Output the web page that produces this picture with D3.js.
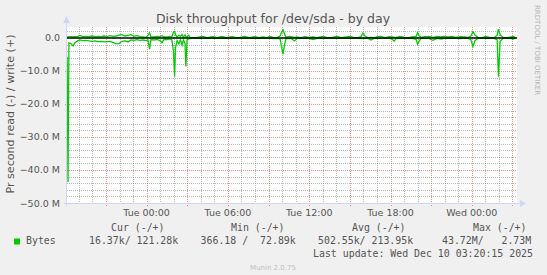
<!DOCTYPE html>
<html><head><meta charset="utf-8">
<script src="https://cdn.jsdelivr.net/npm/d3@7"></script>
<style>
html,body{margin:0;padding:0;background:#F0F0F0;}
svg{display:block;}
text{white-space:pre;}
</style></head>
<body>
<script>
// ---- data (minutes after Mon Dec 8 2025 18:00, values in MB/s) ----
const title = "Disk throughput for /dev/sda - by day";
const yLabel = "Pr second read (-) / write (+)";
const minutes = [8,12,16,25,34,43,56,65,78,92,105,118,132,145,158,171,185,198,211,225,238,251,264,278,291,304,317,331,344,357,366,373,379,393,406,419,428,437,450,464,472,479,484,488,495,503,510,517,523,530,534,539,546,552,565,583,610,627,654,672,694,712,738,756,774,796,813,840,858,875,893,906,920,937,951,957,964,971,977,991,1004,1015,1026,1044,1061,1079,1097,1115,1141,1159,1181,1203,1221,1243,1261,1278,1296,1309,1318,1327,1340,1354,1367,1385,1398,1416,1433,1447,1456,1464,1482,1500,1518,1535,1553,1560,1566,1575,1593,1610,1628,1646,1664,1677,1695,1712,1730,1748,1765,1783,1796,1805,1814,1827,1845,1863,1881,1898,1912,1918,1925,1938,1956,1974,1982,1991];
const readMB = [5.7,43.6,1.5,1.7,2.4,1.4,0.8,0.6,0.8,0.7,0.9,1.0,0.9,1.1,1.0,1.2,1.1,1.0,1.3,1.8,1.7,1.0,0.9,1.2,0.6,0.7,0.5,0.7,0.6,0.8,0.6,3.4,0.5,0.6,0.4,0.8,1.5,0.4,0.5,0.3,0.6,4.0,11.7,3.0,0.8,1.8,0.5,2.2,0.6,1.6,8.6,0.6,0.3,0.2,0.1,0.1,0.1,0.1,0.1,0.1,0.1,0.1,0.1,0.1,0.1,0.1,0.1,0.1,0.1,0.1,0.1,0.1,0.2,0.1,0.3,2.5,4.9,2.0,0.2,0.1,0.3,0.9,0.1,0.1,0.1,0.1,0.5,0.1,0.1,0.1,0.1,0.1,0.1,0.1,0.1,0.1,0.1,0.1,0.2,0.1,0.1,0.6,0.1,0.1,0.1,0.1,0.1,0.3,1.0,0.2,0.1,0.1,0.1,0.1,0.4,1.9,1.0,0.1,0.1,0.1,0.7,0.1,0.3,0.1,0.1,0.1,0.1,0.2,0.1,0.1,0.5,2.6,0.8,0.1,0.1,0.1,0.1,0.1,0.5,11.7,1.0,0.1,0.1,0.1,0.4,0.02];
const writeMB = [0.3,0.3,0.4,0.4,0.3,0.4,0.5,0.8,0.4,0.5,0.4,0.6,0.4,0.5,0.4,0.6,0.4,0.7,0.5,0.6,0.9,1.0,0.6,0.8,1.0,0.5,0.7,0.4,0.3,0.2,0.8,1.5,0.4,0.3,0.5,0.4,0.7,0.3,0.3,0.4,0.4,1.8,2.0,0.9,0.3,0.8,0.4,1.0,0.3,0.9,0.4,0.3,0.8,0.2,0.1,0.2,0.5,0.1,0.4,0.1,0.5,0.1,0.4,0.1,0.2,0.5,0.1,0.4,0.1,0.3,0.1,0.5,0.2,0.1,0.6,1.6,2.4,1.2,0.2,0.5,0.3,0.2,0.3,0.1,0.4,0.2,0.3,0.1,0.5,0.1,0.2,0.5,0.1,0.3,0.5,0.1,0.1,0.4,1.5,0.6,0.1,0.2,0.1,0.4,0.5,0.1,0.4,0.3,0.2,0.2,0.5,0.2,0.1,0.3,0.5,1.6,0.8,0.2,0.4,0.5,0.2,0.5,0.3,0.5,0.3,0.5,0.2,0.4,0.3,0.2,0.6,1.9,0.9,0.2,0.1,0.5,0.1,0.1,0.8,2.7,1.0,0.2,0.1,0.3,0.5,0.12];
const yTicks = [0,-10,-20,-30,-40,-50];
const legendHeaders = ["Cur (-/+)","Min (-/+)","Avg (-/+)","Max (-/+)"];
const legendSeries = "Bytes";
const legendValues = ["16.37k/ 121.28k","366.18 /  72.89k","502.55k/ 213.95k","43.72M/   2.73M"];
const lastUpdate = "Last update: Wed Dec 10 03:20:15 2025";
const watermark = "RRDTOOL / TOBI OETIKER";
const footer = "Munin 2.0.75";

// ---- drawing ----
const W = 547, H = 275;
const base = new Date(2025, 11, 8, 18, 0);
const t = m => new Date(base.getTime() + m * 60000);
const endT = t(2000);
const L = 67, R = 517, T = 27, B = 203;
const x = d3.scaleTime().domain([base, endT]).range([65.3, R]);
const y = d3.scaleLinear().domain([-50, 3.33]).range([B, T]);
const green = "#00CC00", fontCol = "#555555";

const svg = d3.select("body").append("svg").attr("width", W).attr("height", H);
svg.append("rect").attr("width", W).attr("height", H).attr("fill", "#F0F0F0");
svg.append("rect").attr("x", L).attr("y", T).attr("width", R - L).attr("height", B - T).attr("fill", "#FFFFFF");

const defs = svg.append("defs");
defs.append("clipPath").attr("id", "clip").append("rect").attr("x", L).attr("y", T).attr("width", R - L).attr("height", B - T);

// grid
const g = svg.append("g");
const hourTicks = d3.timeHour.every(1).range(base, endT).filter(d => x(d) > L + 0.5);
hourTicks.forEach(d => {
  const major = d.getHours() % 3 === 0;
  g.append("line").attr("x1", Math.round(x(d)) + 0.5).attr("x2", Math.round(x(d)) + 0.5)
    .attr("y1", T).attr("y2", major ? B + 3 : B)
    .attr("stroke", major ? "rgba(225,70,70,0.6)" : "rgba(130,130,130,0.55)")
    .attr("stroke-dasharray", "1,1");
});
d3.range(-50, 3.33, 2).forEach(v => {
  const major = v % 10 === 0;
  if (v === 0) return;
  g.append("line").attr("x1", major ? L - 2 : L).attr("x2", R)
    .attr("y1", Math.round(y(v)) + 0.5).attr("y2", Math.round(y(v)) + 0.5)
    .attr("stroke", major ? "rgba(225,70,70,0.6)" : "rgba(130,130,130,0.55)")
    .attr("stroke-dasharray", "1,1");
});

// series
const readData = minutes.map((m, i) => [t(m), -readMB[i]]);
const writeData = minutes.map((m, i) => [t(m), writeMB[i]]);
const line = d3.line().x(d => x(d[0])).y(d => y(d[1]));
const plot = svg.append("g").attr("clip-path", "url(#clip)");
plot.append("path").attr("d", line(readData)).attr("fill", "none").attr("stroke", green).attr("stroke-width", 1.3);
plot.append("path").attr("d", line(writeData)).attr("fill", "none").attr("stroke", green).attr("stroke-width", 1.3);
// zero rule
svg.append("line").attr("x1", L).attr("x2", R).attr("y1", y(0)).attr("y2", y(0)).attr("stroke", "#000").attr("stroke-width", 1.3);

// axes
const axisCol = "#CFD6F8";
svg.append("line").attr("x1", L - 0.5).attr("x2", L - 0.5).attr("y1", B + 3).attr("y2", T - 6).attr("stroke", axisCol);
svg.append("path").attr("d", `M${L-4},${T-4} L${L-0.5},${T-11} L${L+3},${T-4} Z`).attr("fill", axisCol);
svg.append("line").attr("x1", L - 3).attr("x2", R + 5).attr("y1", B + 0.5).attr("y2", B + 0.5).attr("stroke", axisCol);
svg.append("path").attr("d", `M${R+3},${B-3} L${R+9},${B+0.5} L${R+3},${B+4} Z`).attr("fill", axisCol);

// tick labels
const fSans = "DejaVu Sans";
const fMono = "DejaVu Sans Mono";
svg.append("g").selectAll("text").data(yTicks).join("text")
  .attr("x", 60).attr("y", d => y(d) + 3.5).attr("text-anchor", "end")
  .attr("font-family", fSans).attr("font-size", 9.5).attr("fill", fontCol)
  .text(d => d === 0 ? "0.0" : d3.format(".1f")(d) + " M");
const labelTicks = d3.timeHour.every(6).range(base, endT).filter(d => x(d) > L + 5);
svg.append("g").selectAll("text").data(labelTicks).join("text")
  .attr("x", d => x(d)).attr("y", 216).attr("text-anchor", "middle")
  .attr("font-family", fSans).attr("font-size", 9.5).attr("fill", fontCol)
  .text(d => d3.timeFormat("%a %H:%M")(d));

// titles
svg.append("text").attr("x", 273).attr("y", 23).attr("text-anchor", "middle")
  .attr("font-family", fSans).attr("font-size", 12.5).attr("fill", fontCol).text(title);
svg.append("text").attr("transform", "translate(14,114) rotate(-90)").attr("text-anchor", "middle")
  .attr("font-family", fSans).attr("font-size", 11.1).attr("fill", fontCol).text(yLabel);
svg.append("text").attr("transform", "translate(535,5) rotate(90)").attr("text-anchor", "start")
  .attr("font-family", fSans).attr("font-size", 7).attr("fill", "#b4b4b4").text(watermark);

// legend
const headX = [111, 231, 352, 473];
const valX = [89, 200.6, 318, 442];
svg.append("g").selectAll("text").data(legendHeaders).join("text")
  .attr("x", (d, i) => headX[i]).attr("y", 231).attr("font-family", fMono).attr("font-size", 9.9).attr("fill", fontCol).text(d => d);
svg.append("rect").attr("x", 14).attr("y", 238.5).attr("width", 6).attr("height", 6).attr("fill", green);
svg.append("text").attr("x", 26).attr("y", 244).attr("font-family", fMono).attr("font-size", 9.9).attr("fill", fontCol).text(legendSeries);
svg.append("g").selectAll("text").data(legendValues).join("text")
  .attr("x", (d, i) => valX[i]).attr("y", 244).attr("font-family", fMono).attr("font-size", 9.9).attr("fill", fontCol).text(d => d);
svg.append("text").attr("x", 533).attr("y", 257).attr("text-anchor", "end").attr("font-family", fMono).attr("font-size", 9.9).attr("fill", fontCol).text(lastUpdate);
svg.append("text").attr("x", 273).attr("y", 270).attr("text-anchor", "middle").attr("font-family", fSans).attr("font-size", 7).attr("fill", "#c0c0c0").text(footer);
</script>
</body></html>
